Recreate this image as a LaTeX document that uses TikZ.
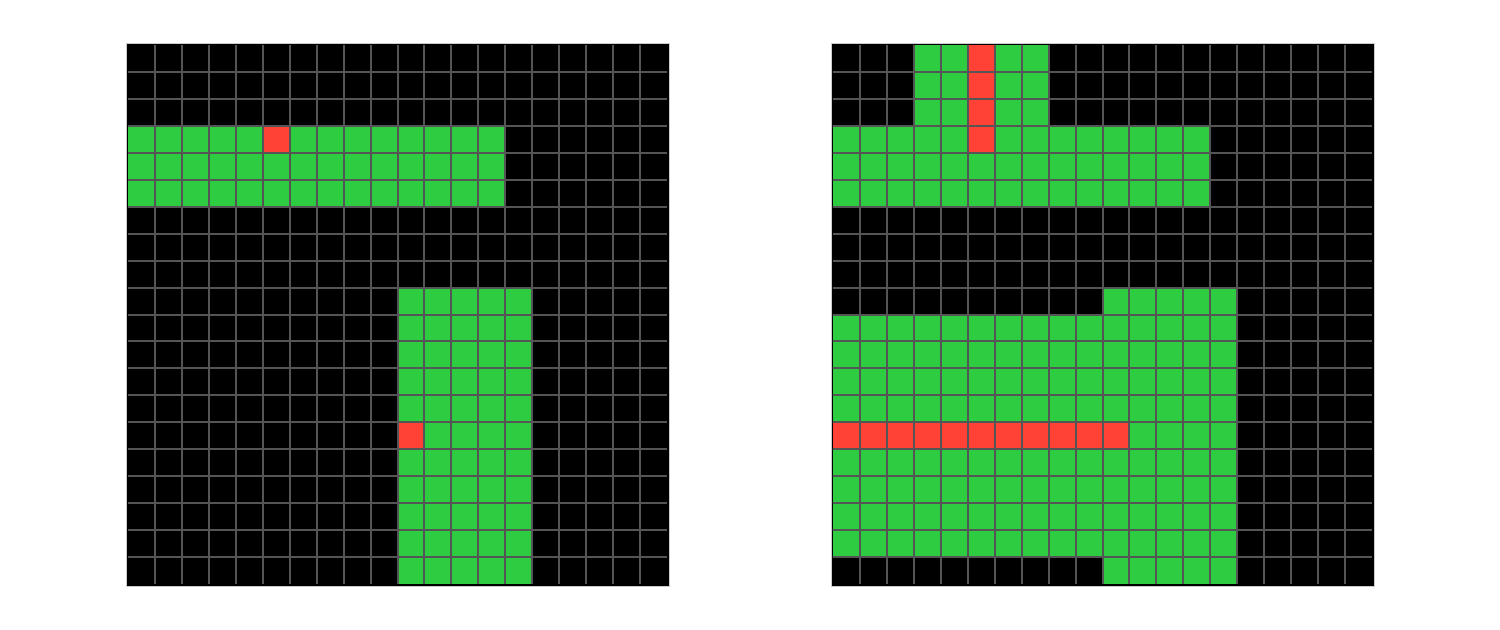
\documentclass[tikz,border=0pt]{standalone}
\definecolor{cg}{HTML}{2ECC40}
\definecolor{cr}{HTML}{FF4136}
\definecolor{gl}{HTML}{555555}
\definecolor{fr}{HTML}{CCCCCC}
\tikzset{gridline/.style={gl,line width=1pt},frame/.style={draw=fr,line width=0.5pt,fill=black}}
\newcommand\cellblock[7]{%
  \fill[#7] ({#1+#3*26.95},{#2+#4*26.95}) rectangle ({#1+(#5+1)*26.95},{#2+(#6+1)*26.95});}
\newcommand\cellgrid[2]{%
  \foreach \i in {1,...,19}{%
    \draw[gridline] ({#1+\i*26.95},{#2}) -- ({#1+\i*26.95},{#2+539});
    \draw[gridline] ({#1},{#2+\i*26.95}) -- ({#1+539},{#2+\i*26.95});
  }}
\begin{document}
\begin{tikzpicture}[x=0.5pt,y=-0.5pt]
\useasboundingbox (0,0) rectangle (1500,629);
% left panel
\path[frame] (126,43) rectangle (669,586);
\cellblock{128}{45}{0}{3}{13}{5}{cg}
\cellblock{128}{45}{10}{9}{14}{19}{cg}
\cellblock{128}{45}{5}{3}{5}{3}{cr}
\cellblock{128}{45}{10}{14}{10}{14}{cr}
\cellgrid{128}{45}
% right panel
\path[frame] (831,43) rectangle (1374,586);
\cellblock{833}{45}{3}{0}{7}{2}{cg}
\cellblock{833}{45}{0}{3}{13}{5}{cg}
\cellblock{833}{45}{10}{9}{14}{19}{cg}
\cellblock{833}{45}{0}{10}{9}{18}{cg}
\cellblock{833}{45}{5}{0}{5}{3}{cr}
\cellblock{833}{45}{0}{14}{10}{14}{cr}
\cellgrid{833}{45}
\end{tikzpicture}
\end{document}
